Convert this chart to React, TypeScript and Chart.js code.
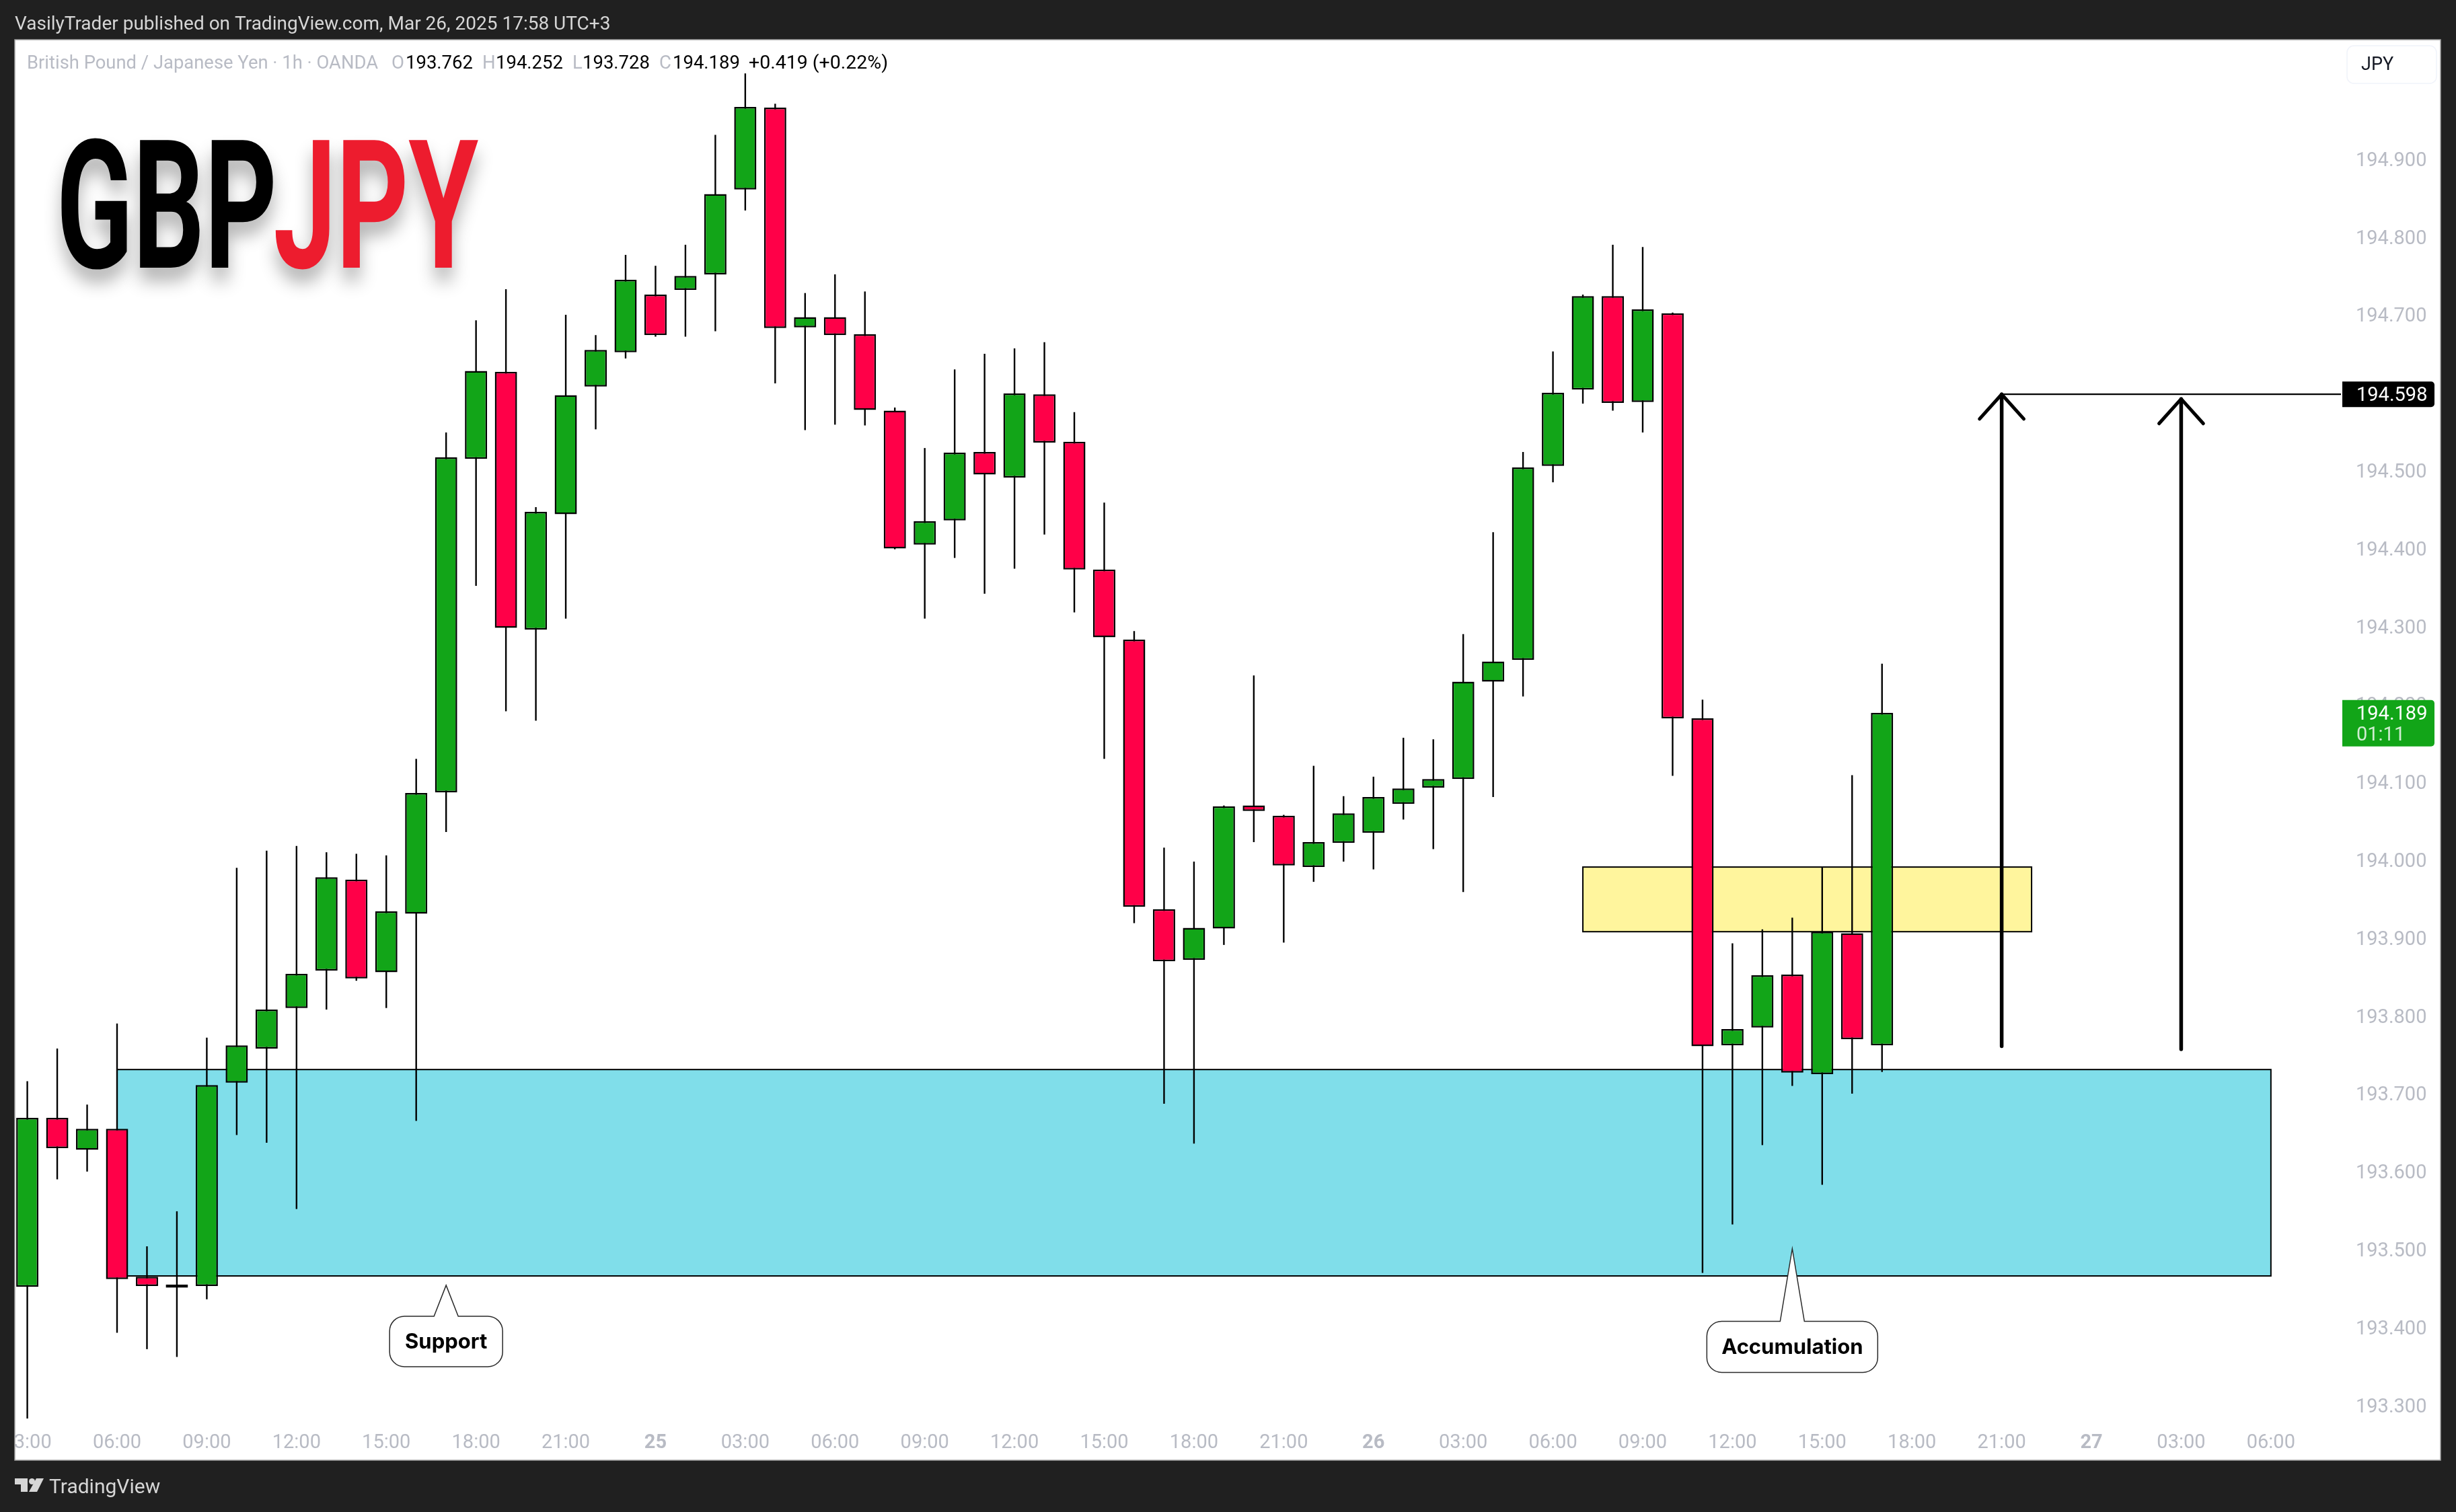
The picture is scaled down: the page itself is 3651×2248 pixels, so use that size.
import React, { useEffect, useRef } from 'react'
import Chart from 'chart.js/auto'

// hourly bars, index 0 is 03:00 on the 24th
const opens = [
  193.452, 193.669, 193.628, 193.655, 193.465, 193.451, 193.453, 193.714, 193.758, 193.81,
  193.858, 193.975, 193.856, 193.931, 194.087, 194.515, 194.627, 194.296, 194.444, 194.608,
  194.652, 194.726, 194.732, 194.752, 194.861, 194.966, 194.684, 194.697, 194.675, 194.577,
  194.405, 194.436, 194.524, 194.491, 194.598, 194.537, 194.373, 194.283, 193.937, 193.872,
  193.912, 194.07, 194.057, 193.991, 194.022, 194.035, 194.072, 194.093, 194.104, 194.229,
  194.257, 194.506, 194.604, 194.724, 194.588, 194.702, 194.182, 193.762, 193.785, 193.853,
  193.725, 193.906, 193.762,
]
const highs = [
  193.716, 193.758, 193.686, 193.79, 193.504, 193.549, 193.772, 193.99, 194.012, 194.018,
  194.01, 194.008, 194.006, 194.13, 194.549, 194.693, 194.733, 194.453, 194.7, 194.674,
  194.777, 194.763, 194.79, 194.931, 195.01, 194.971, 194.728, 194.752, 194.73, 194.581,
  194.529, 194.63, 194.65, 194.657, 194.665, 194.575, 194.459, 194.294, 194.016, 193.998,
  194.07, 194.237, 194.058, 194.121, 194.082, 194.107, 194.157, 194.155, 194.29, 194.421,
  194.524, 194.653, 194.726, 194.79, 194.787, 194.703, 194.206, 193.893, 193.911, 193.926,
  193.991, 194.109, 194.252,
]
const lows = [
  193.283, 193.59, 193.6, 193.393, 193.372, 193.362, 193.436, 193.647, 193.637, 193.552,
  193.808, 193.845, 193.81, 193.665, 194.036, 194.352, 194.191, 194.179, 194.31, 194.553,
  194.644, 194.672, 194.672, 194.679, 194.834, 194.612, 194.552, 194.559, 194.558, 194.399,
  194.31, 194.388, 194.342, 194.374, 194.418, 194.318, 194.13, 193.919, 193.687, 193.636,
  193.891, 194.023, 193.894, 193.972, 193.998, 193.988, 194.052, 194.014, 193.959, 194.081,
  194.21, 194.485, 194.586, 194.577, 194.549, 194.108, 193.47, 193.532, 193.634, 193.71,
  193.583, 193.7, 193.728,
]
const closes = [
  193.669, 193.63, 193.655, 193.462, 193.453, 193.455, 193.711, 193.762, 193.808, 193.854,
  193.978, 193.848, 193.934, 194.086, 194.517, 194.628, 194.298, 194.447, 194.597, 194.655,
  194.745, 194.674, 194.75, 194.855, 194.967, 194.683, 194.697, 194.674, 194.578, 194.4,
  194.435, 194.523, 194.495, 194.599, 194.536, 194.373, 194.286, 193.94, 193.87, 193.913,
  194.069, 194.063, 193.993, 194.023, 194.06, 194.081, 194.092, 194.104, 194.229, 194.255,
  194.504, 194.6, 194.724, 194.587, 194.707, 194.182, 193.761, 193.783, 193.852, 193.727,
  193.908, 193.77, 194.189,
]

const xTickLabels = [
  '03:00', '06:00', '09:00', '12:00', '15:00', '18:00', '21:00', '25',
  '03:00', '06:00', '09:00', '12:00', '15:00', '18:00', '21:00', '26',
  '03:00', '06:00', '09:00', '12:00', '15:00', '18:00', '21:00', '27',
  '03:00', '06:00',
]
const xTickBars = xTickLabels.map((_, i) => i * 3)
const yTicks = [
  194.9, 194.8, 194.7, 194.6, 194.5, 194.4, 194.3, 194.2, 194.1, 194.0,
  193.9, 193.8, 193.7, 193.6, 193.5, 193.4, 193.3,
]
const dayLabels = ['25', '26', '27']

// drawn zones: [first bar, last bar, upper price, lower price]
const blueZone = [3, 75, 193.731, 193.466]
const yellowZone = [52, 67, 193.991, 193.908]

const arrowBars = [66, 72]
const arrowTips = [194.598, 194.592]
const arrowBases = [193.761, 193.757]
const targetPrice = 194.598
const lastPrice = 194.189

const supportTip = [14, 193.454]
const accumulationTip = [59, 193.501]

const X_MIN = -0.418
const X_MAX = 77.342
const Y_MAX = 195.0533
const Y_MIN = 193.2769

const GREEN = '#12a518'
const RED = '#ff0048'
const DARK = '#202020'
const AXIS_GREY = '#b8bbc4'

const font = (size: number, weight = 400, family = 'Roboto') => `${weight} ${size}px ${family}, sans-serif`

function text(ctx: any, s: string, x: number, y: number, color: string, f: string, align = 'left') {
  ctx.font = f
  ctx.fillStyle = color
  ctx.textAlign = align
  ctx.textBaseline = 'middle'
  ctx.fillText(s, x, y)
}

function squished(ctx: any, s: string, left: number, base: number, width: number, color: string) {
  ctx.save()
  ctx.font = font(267, 700)
  ctx.textAlign = 'left'
  ctx.textBaseline = 'alphabetic'
  const m = ctx.measureText(s)
  const inkLeft = m.actualBoundingBoxLeft
  const ink = m.actualBoundingBoxRight + inkLeft
  const sx = width / ink
  ctx.translate(left + inkLeft * sx, base)
  ctx.scale(sx, 1)
  ctx.shadowColor = 'rgba(0,0,0,0.3)'
  ctx.shadowBlur = 26
  ctx.shadowOffsetY = 20
  ctx.fillStyle = color
  ctx.fillText(s, 0, 0)
  ctx.restore()
}

function callout(ctx: any, tip: number[], chart: any, w: number, topGap: number, h: number, tail: number, label: string, labelFont: string) {
  const tx = chart.scales.x.getPixelForValue(tip[0])
  const ty = chart.scales.y.getPixelForValue(tip[1])
  const left = tx - w / 2
  const right = tx + w / 2
  const top = ty + topGap
  const bottom = top + h
  const r = 22
  ctx.beginPath()
  ctx.moveTo(left + r, top)
  ctx.lineTo(tx - tail, top)
  ctx.lineTo(tx, ty)
  ctx.lineTo(tx + tail, top)
  ctx.lineTo(right - r, top)
  ctx.arcTo(right, top, right, top + r, r)
  ctx.lineTo(right, bottom - r)
  ctx.arcTo(right, bottom, right - r, bottom, r)
  ctx.lineTo(left + r, bottom)
  ctx.arcTo(left, bottom, left, bottom - r, r)
  ctx.lineTo(left, top + r)
  ctx.arcTo(left, top, left + r, top, r)
  ctx.closePath()
  ctx.fillStyle = '#ffffff'
  ctx.fill()
  ctx.strokeStyle = '#2a2a2a'
  ctx.lineWidth = 1.5
  ctx.stroke()
  text(ctx, label, tx, top + h / 2 + 1, '#000000', labelFont, 'center')
}

const framePlugin = {
  id: 'frame',
  beforeDraw(chart: any) {
    const { ctx } = chart
    ctx.save()
    ctx.fillStyle = DARK
    ctx.fillRect(0, 0, chart.width, chart.height)
    ctx.fillStyle = '#ffffff'
    ctx.fillRect(22, 59, 3606, 2112)
    ctx.restore()
  },
  beforeDatasetsDraw(chart: any) {
    const { ctx, scales } = chart
    ctx.save()
    const zone = (z: number[], fill: string) => {
      const x0 = scales.x.getPixelForValue(z[0])
      const x1 = scales.x.getPixelForValue(z[1])
      const y0 = scales.y.getPixelForValue(z[2])
      const y1 = scales.y.getPixelForValue(z[3])
      ctx.fillStyle = fill
      ctx.fillRect(x0, y0, x1 - x0, y1 - y0)
      ctx.strokeStyle = '#000000'
      ctx.lineWidth = 2
      ctx.strokeRect(x0, y0, x1 - x0, y1 - y0)
    }
    zone(blueZone, '#80deea')
    zone(yellowZone, '#fff59d')
    ctx.restore()
  },
  afterDatasetsDraw(chart: any) {
    const { ctx, scales } = chart
    ctx.save()
    callout(ctx, supportTip, chart, 168, 46, 75, 18, 'Support', font(31, 700, 'Inter'))
    callout(ctx, accumulationTip, chart, 254, 108, 76, 18, 'Accumulation', font(31, 700, 'Inter'))

    squished(ctx, 'GBP', 89, 398, 317, '#000000')
    squished(ctx, 'JPY', 409, 398, 303, '#ed1c2e')

    // legend row
    const legendY = 95
    text(ctx, 'British Pound / Japanese Yen · 1h · OANDA', 40, legendY, AXIS_GREY, font(27.4))
    const pairs: [string, number, string, number][] = [
      ['O', 582, '193.762', 603],
      ['H', 717, '194.252', 737],
      ['L', 851, '193.728', 866],
      ['C', 980, '194.189', 1000],
    ]
    pairs.forEach(([k, kx, v, vx]) => {
      text(ctx, k, kx, legendY, AXIS_GREY, font(27.5))
      text(ctx, v, vx, legendY, '#000000', font(27.5))
    })
    text(ctx, '+0.419 (+0.22%)', 1113, legendY, '#000000', font(28.5))

    // right side price labels
    const tagLeft = 3482
    const tagW = 137
    const targetY = scales.y.getPixelForValue(targetPrice)
    ctx.fillStyle = '#000000'
    ctx.beginPath()
    ctx.roundRect(tagLeft, targetY - 19, tagW, 38, [0, 5, 5, 0])
    ctx.fill()
    text(ctx, targetPrice.toFixed(3), 3503, targetY + 3, '#ffffff', font(29))

    const lastY = scales.y.getPixelForValue(lastPrice)
    ctx.fillStyle = GREEN
    ctx.beginPath()
    ctx.roundRect(tagLeft, lastY - 19, tagW, 69, [0, 5, 5, 0])
    ctx.fill()
    text(ctx, lastPrice.toFixed(3), 3503, lastY + 3, '#ffffff', font(29))
    text(ctx, '01:11', 3503, lastY + 34, 'rgba(255,255,255,0.8)', font(29))

    // currency badge
    ctx.strokeStyle = '#f0f3fa'
    ctx.lineWidth = 1.5
    ctx.fillStyle = '#ffffff'
    ctx.beginPath()
    ctx.roundRect(3489, 68, 133, 56, 10)
    ctx.fill()
    ctx.stroke()
    text(ctx, 'JPY', 3510, 97, '#131722', font(27))
    ctx.restore()
  },
  afterDraw(chart: any) {
    const { ctx } = chart
    ctx.save()
    // left strip hides the cut-off first time label
    ctx.fillStyle = DARK
    ctx.fillRect(0, 59, 22, 2112)
    ctx.strokeStyle = '#a0a0a0'
    ctx.lineWidth = 1.5
    ctx.strokeRect(22, 59, 3606, 2112)

    text(ctx, 'VasilyTrader published on TradingView.com, Mar 26, 2025 17:58 UTC+3', 22, 37, '#d6d6d6', font(28))
    text(ctx, 'TradingView', 73, 2212, '#d6d6d6', font(30))

    // TradingView mark
    ctx.fillStyle = '#d6d6d6'
    ctx.beginPath()
    ctx.moveTo(22, 2198)
    ctx.lineTo(41, 2198)
    ctx.lineTo(41, 2218)
    ctx.lineTo(31, 2218)
    ctx.lineTo(31, 2207)
    ctx.lineTo(22, 2207)
    ctx.closePath()
    ctx.fill()
    ctx.beginPath()
    ctx.arc(47.5, 2202.5, 4.5, 0, Math.PI * 2)
    ctx.fill()
    ctx.beginPath()
    ctx.moveTo(54, 2198)
    ctx.lineTo(65, 2198)
    ctx.lineTo(55, 2218)
    ctx.lineTo(43, 2218)
    ctx.closePath()
    ctx.fill()
    ctx.restore()
  },
}

const bars = opens.map((_, i) => i)

const App: React.FC = () => {
  const chartRef = useRef<HTMLCanvasElement | null>(null)

  useEffect(() => {
    if (!chartRef.current) return
    document.body.style.margin = '0'

    const arrowLines = arrowBars.flatMap((b, i) => [
      {
        type: 'line',
        data: [{ x: b, y: arrowBases[i] }, { x: b, y: arrowTips[i] }],
        borderColor: '#000000',
        borderWidth: 5.5,
        pointRadius: 0,
        borderCapStyle: 'round',
        order: 1,
      },
      {
        type: 'line',
        data: [
          { x: b - 0.74, y: arrowTips[i] - 0.0316 },
          { x: b, y: arrowTips[i] },
          { x: b + 0.74, y: arrowTips[i] - 0.0316 },
        ],
        borderColor: '#000000',
        borderWidth: 5,
        pointRadius: 0,
        borderCapStyle: 'round',
        borderJoinStyle: 'round',
        tension: 0,
        order: 1,
      },
    ])

    const chart = new Chart(chartRef.current, {
      type: 'bar',
      data: {
        datasets: [
          {
            label: 'wicks',
            data: bars.map((i) => ({ x: i, y: [lows[i], highs[i]] })),
            backgroundColor: '#000000',
            borderWidth: 0,
            barThickness: 2.4,
            grouped: false,
            inflateAmount: 0,
            order: 3,
          },
          {
            label: 'bodies',
            data: bars.map((i) => ({ x: i, y: [opens[i], closes[i]] })),
            backgroundColor: bars.map((i) => (closes[i] >= opens[i] ? GREEN : RED)),
            borderColor: '#000000',
            borderWidth: 2.5,
            borderSkipped: false,
            barThickness: 33,
            grouped: false,
            inflateAmount: 0,
            order: 2,
          },
          {
            type: 'line',
            label: 'target',
            data: [{ x: arrowBars[0], y: targetPrice }, { x: X_MAX, y: targetPrice }],
            borderColor: '#000000',
            borderWidth: 2.2,
            pointRadius: 0,
            order: 1,
          },
          ...arrowLines,
        ] as any,
      },
      options: {
        animation: false,
        responsive: false,
        devicePixelRatio: 1,
        layout: { padding: { left: 22, top: 59, right: 23, bottom: 78 } },
        plugins: { legend: { display: false }, tooltip: { enabled: false } },
        scales: {
          x: {
            type: 'linear',
            offset: false,
            min: X_MIN,
            max: X_MAX,
            grid: { display: false },
            border: { display: false },
            afterFit: (scale: any) => {
              scale.height = 54
              scale.paddingLeft = 0
              scale.paddingRight = 0
            },
            afterBuildTicks: (scale: any) => {
              scale.ticks = xTickBars.map((value) => ({ value }))
            },
            ticks: {
              autoSkip: false,
              maxRotation: 0,
              minRotation: 0,
              padding: 4,
              color: AXIS_GREY,
              font: (c: any) =>
                dayLabels.includes(xTickLabels[c.index])
                  ? { family: 'Roboto', size: 29, weight: 700 }
                  : { family: 'Roboto', size: 29, weight: 400 },
              callback: (_v: any, i: number) => xTickLabels[i],
            },
          },
          y: {
            type: 'linear',
            position: 'right',
            min: Y_MIN,
            max: Y_MAX,
            grid: { display: false },
            border: { display: false },
            afterFit: (scale: any) => {
              scale.width = 148
              scale.paddingTop = 0
              scale.paddingBottom = 0
            },
            afterBuildTicks: (scale: any) => {
              scale.ticks = yTicks.map((value) => ({ value }))
            },
            ticks: {
              padding: 14,
              labelOffset: 3,
              color: AXIS_GREY,
              font: { family: 'Roboto', size: 29 },
              callback: (v: any) => Number(v).toFixed(3),
            },
          },
        },
      } as any,
      plugins: [framePlugin],
    })

    return () => {
      chart.destroy()
    }
  }, [])

  return (
    <div style={{ position: 'absolute', left: 0, top: 0, width: 3651, height: 2248 }}>
      <canvas ref={chartRef} width={3651} height={2248} style={{ display: 'block' }} />
    </div>
  )
}

export default App
